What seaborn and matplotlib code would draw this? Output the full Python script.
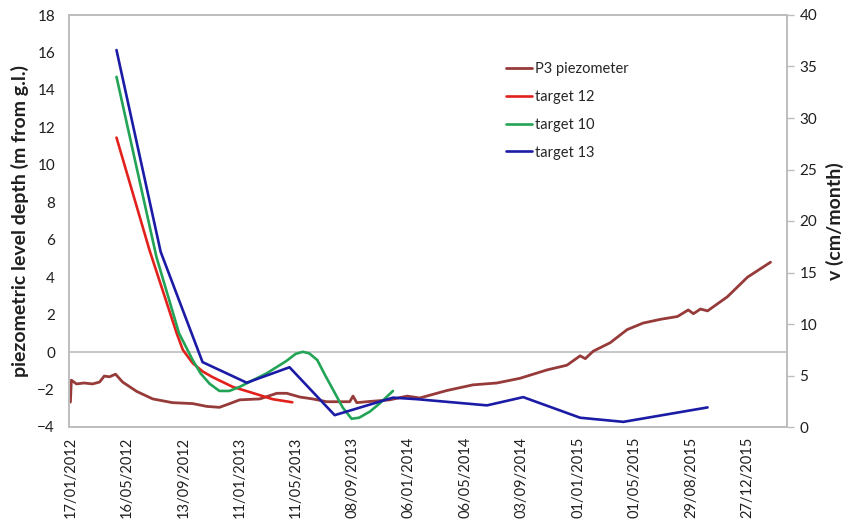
import matplotlib
matplotlib.use("Agg")
import matplotlib.pyplot as plt
import matplotlib.dates as mdates
import pandas as pd
import seaborn as sns

# P3 piezometer: depth of the piezometric level (m from ground level)
piezo_dates = [
    "2012-01-17", "2012-01-19", "2012-01-30", "2012-02-15", "2012-03-04", "2012-03-19",
    "2012-03-29", "2012-04-09", "2012-04-22", "2012-05-07", "2012-06-06", "2012-07-10",
    "2012-08-21", "2012-10-03", "2012-11-02", "2012-11-29", "2012-12-21", "2013-01-11",
    "2013-02-23", "2013-03-31", "2013-04-21", "2013-05-19", "2013-06-15", "2013-07-15",
    "2013-09-02", "2013-09-09", "2013-09-17", "2013-10-08", "2013-11-26", "2014-01-02",
    "2014-01-29", "2014-03-28", "2014-05-22", "2014-07-12", "2014-08-30", "2014-10-27",
    "2014-12-08", "2015-01-05", "2015-01-16", "2015-02-02", "2015-03-10", "2015-04-15",
    "2015-05-19", "2015-06-25", "2015-07-31", "2015-08-23", "2015-09-03", "2015-09-18",
    "2015-10-03", "2015-11-14", "2015-12-27", "2016-02-14",
]
piezo_depth = [
    -2.67, -1.50, -1.70, -1.65, -1.70, -1.60,
    -1.28, -1.32, -1.18, -1.60, -2.10, -2.50,
    -2.70, -2.75, -2.90, -2.95, -2.75, -2.55,
    -2.50, -2.20, -2.20, -2.40, -2.50, -2.65,
    -2.65, -2.35, -2.70, -2.65, -2.55, -2.35,
    -2.45, -2.05, -1.75, -1.65, -1.40, -0.95,
    -0.70, -0.20, -0.35, 0.05, 0.50, 1.20,
    1.55, 1.75, 1.90, 2.25, 2.05, 2.30,
    2.20, 2.95, 4.00, 4.80,
]

# Velocities of the monitored targets (cm/month)
t12_dates = ["2012-04-24", "2012-07-03", "2012-08-30", "2012-09-12", "2012-10-03",
             "2012-10-24", "2012-11-14", "2012-12-27", "2013-02-08", "2013-03-22",
             "2013-05-03"]
t12_v = [28.1, 17.2, 9.1, 7.5, 6.2, 5.4, 4.85, 3.9, 3.3, 2.7, 2.4]

t10_dates = ["2012-04-24", "2012-07-18", "2012-09-04", "2012-10-03", "2012-10-20",
             "2012-11-08", "2012-11-29", "2012-12-20", "2013-01-11", "2013-03-09",
             "2013-04-20", "2013-05-10", "2013-05-25", "2013-06-08", "2013-06-25",
             "2013-07-12", "2013-07-30", "2013-08-18", "2013-09-06", "2013-09-22",
             "2013-10-15", "2013-11-05", "2013-12-03"]
t10_v = [34.0, 16.5, 9.1, 6.5, 5.2, 4.2, 3.5, 3.5, 3.9, 5.2,
         6.4, 7.1, 7.3, 7.15, 6.5, 5.0, 3.5, 1.9, 0.8, 0.9,
         1.5, 2.3, 3.5]

t13_dates = ["2012-04-24", "2012-07-27", "2012-10-24", "2013-01-26", "2013-04-27",
             "2013-08-01", "2013-12-03", "2014-01-23", "2014-06-21", "2014-09-06",
             "2015-01-05", "2015-04-07", "2015-10-03"]
t13_v = [36.6, 17.0, 6.3, 4.3, 5.8, 1.15, 2.85, 2.7, 2.1, 2.9, 0.9, 0.5, 1.9]

tick_dates = ["2012-01-17", "2012-05-16", "2012-09-13", "2013-01-11", "2013-05-11",
              "2013-09-08", "2014-01-06", "2014-05-06", "2014-09-03", "2015-01-01",
              "2015-05-01", "2015-08-29", "2015-12-27"]

depth_ticks = list(range(-4, 19, 2))
velocity_ticks = list(range(0, 41, 5))

sns.set_theme(style="white")
plt.rcParams["font.family"] = ["Lato", "DejaVu Sans"]

GRAY = "#BDBDBD"
TEXT = "#1f1f1f"

fig = plt.figure(figsize=(8.46, 5.22), dpi=100)
ax = fig.add_axes([69 / 846, 1 - 427 / 522, (787 - 69) / 846, (427 - 15) / 522])
ax2 = ax.twinx()

ax.axhline(0, color=GRAY, lw=1.2, zorder=0)

sns.lineplot(x=pd.to_datetime(piezo_dates), y=piezo_depth, ax=ax,
             color="#973a3a", lw=2.0, label="P3 piezometer")
sns.lineplot(x=pd.to_datetime(t12_dates), y=t12_v, ax=ax2,
             color="#e3211c", lw=1.9, label="target 12")
sns.lineplot(x=pd.to_datetime(t10_dates), y=t10_v, ax=ax2,
             color="#22a356", lw=1.9, label="target 10")
sns.lineplot(x=pd.to_datetime(t13_dates), y=t13_v, ax=ax2,
             color="#1b1ba6", lw=1.9, label="target 13")

ax.set_xlim(pd.Timestamp("2012-01-14"), pd.Timestamp("2016-03-20"))
ax.set_ylim(-4, 18)
ax2.set_ylim(0, 40)
ax.set_yticks(depth_ticks)
ax2.set_yticks(velocity_ticks)
ax.set_xticks(pd.to_datetime(tick_dates))
ax.xaxis.set_major_formatter(mdates.DateFormatter("%d/%m/%Y"))

ax.tick_params(axis="x", labelrotation=90, length=0, pad=7, labelsize=10.5, labelcolor=TEXT)
ax.tick_params(axis="y", length=0, pad=10, labelsize=11, labelcolor=TEXT)
ax2.tick_params(axis="y", right=True, length=5, width=1, color=GRAY, pad=4,
                labelsize=11, labelcolor=TEXT)

for a in (ax, ax2):
    for s in a.spines.values():
        s.set_color(GRAY)
        s.set_linewidth(1.2)

ax.set_xlabel("")
ax.set_ylabel("piezometric level depth (m from g.l.)", fontsize=14,
              fontweight="bold", color=TEXT, labelpad=6)
ax2.set_ylabel("v (cm/month)", fontsize=14, fontweight="bold", color=TEXT, labelpad=6)

h1, l1 = ax.get_legend_handles_labels()
h2, l2 = ax2.get_legend_handles_labels()
ax.get_legend().remove()
ax2.legend(h1 + h2, l1 + l2, loc="upper left", bbox_to_anchor=(0.6, 0.9),
           frameon=False, fontsize=10.5, handlelength=1.8, handletextpad=0.2,
           labelspacing=0.95, borderaxespad=0)

fig.savefig("out.png", dpi=100)
